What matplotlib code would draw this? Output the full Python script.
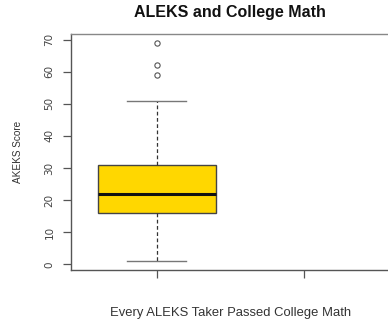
import matplotlib
matplotlib.use("Agg")
import matplotlib.pyplot as plt

# Data
group_labels = ["", ""]
q1 = [16]
median = [22]
q3 = [31]
whisker_low = [1]
whisker_high = [51]
outliers = [[59, 62, 69]]
y_ticks = [0, 10, 20, 30, 40, 50, 60, 70]

title = "ALEKS and College Math"
x_label = "Every ALEKS Taker Passed College Math"
y_label = "AKEKS Score"

W, H = 388, 324
fig = plt.figure(figsize=(W / 100, H / 100), dpi=100)
ax = fig.add_axes([71 / W, 54 / H, (390 - 71) / W, 236 / H])

stats = []
for i in range(len(q1)):
    stats.append(dict(med=median[i], q1=q1[i], q3=q3[i],
                      whislo=whisker_low[i], whishi=whisker_high[i],
                      fliers=outliers[i]))

ax.bxp(stats, positions=[1], widths=0.8, patch_artist=True,
       boxprops=dict(facecolor="#FFD700", edgecolor="#444444", linewidth=1.0),
       medianprops=dict(color="#111111", linewidth=2.2),
       whiskerprops=dict(color="#333333", linewidth=0.9, linestyle=(0, (3, 2))),
       capprops=dict(color="#777777", linewidth=1.0),
       capwidths=0.4,
       flierprops=dict(marker="o", markersize=3.8, markerfacecolor="none",
                       markeredgecolor="#555555", markeredgewidth=0.8))

ax.set_xlim(0.42, 2.58)
ax.set_ylim(-1.72, 71.72)
ax.set_xticks([1, 2])
ax.set_xticklabels(group_labels)
ax.set_yticks(y_ticks)
ax.set_yticklabels([str(v) for v in y_ticks], rotation=90, va="center",
                   fontsize=7.5, color="#444444")

for s in ["left", "bottom", "top", "right"]:
    ax.spines[s].set_color("#555555")
    ax.spines[s].set_linewidth(1.0)
ax.spines["top"].set_color("#888888")
ax.tick_params(axis="both", length=6, width=0.9, color="#555555", pad=6)

fig.text(230 / W, 1 - 12 / H, title, ha="center", va="center",
         fontsize=11.5, fontweight="bold", color="#111111",
         family="Liberation Sans")
fig.text(231 / W, 1 - 313 / H, x_label, ha="center", va="center",
         fontsize=9.4, color="#333333", family="Liberation Sans")
fig.text(18 / W, 1 - 152 / H, y_label, ha="center", va="center",
         rotation=90, fontsize=7.2, color="#333333", family="Liberation Sans")

fig.savefig("out.png", dpi=100)
